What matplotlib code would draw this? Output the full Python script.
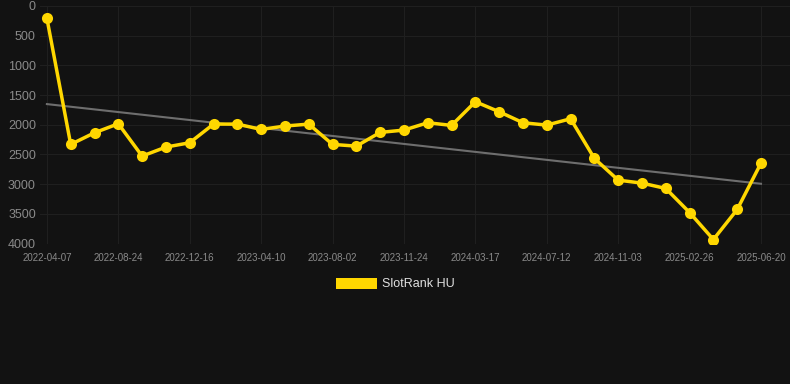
import matplotlib
matplotlib.use('Agg')
import matplotlib.pyplot as plt
from matplotlib.patches import Patch
import numpy as np

plt.rcParams['font.family'] = ['Liberation Sans', 'DejaVu Sans']

# 数据
ranks = [208, 2331, 2135, 1983, 2528, 2376, 2303, 1989, 1989, 2079,
         2022, 1989, 2331, 2360, 2129, 2090, 1966, 2011, 1612, 1781,
         1966, 2006, 1899, 2567, 2933, 2983, 3073, 3478, 3933, 3427,
         2646]
trend_ends = [1652, 2994]   # 趋势线起点/终点
tick_labels = ['2022-04-07', '2022-08-24', '2022-12-16', '2023-04-10',
               '2023-08-02', '2023-11-24', '2024-03-17', '2024-07-12',
               '2024-11-03', '2025-02-26', '2025-06-20']
y_ticks = [0, 500, 1000, 1500, 2000, 2500, 3000, 3500, 4000]

bg = '#121212'
x = np.arange(len(ranks))

fig = plt.figure(figsize=(7.9, 3.84), dpi=100, facecolor=bg)
ax = fig.add_axes([40 / 790, 1 - 243.5 / 384, 750 / 790, 237.5 / 384], facecolor=bg)

# 趋势线
ax.plot([x[0], x[-1]], trend_ends, color='#6e6e6e', linewidth=1.5, zorder=2)

ax.plot(x, ranks, color='#FFD700', linewidth=2.5, marker='o', markersize=8,
        markeredgewidth=0, zorder=3)

ax.set_ylim(4000, 0)
ax.set_xlim(-0.29, 30 + 29 / 23.8)
ax.set_yticks(y_ticks)
ax.set_xticks(x[::3])
ax.set_xticklabels(tick_labels)
ax.grid(True, color='#1f1f1f', linewidth=0.8)
ax.set_axisbelow(True)
for s in ax.spines.values():
    s.set_visible(False)
ax.tick_params(axis='both', length=0, colors='#8a8a8a')
ax.tick_params(axis='y', labelsize=9, pad=3)
ax.tick_params(axis='x', labelsize=7, pad=7)

leg = fig.legend(handles=[Patch(facecolor='#FFD700', label='SlotRank HU')],
                 loc='center', bbox_to_anchor=(0.5, 1 - 284 / 384), frameon=False,
                 handlelength=3.3, handleheight=1.0, fontsize=9, labelcolor='#e0e0e0',
                 handletextpad=0.4)

fig.savefig('out.png', dpi=100, facecolor=bg)
